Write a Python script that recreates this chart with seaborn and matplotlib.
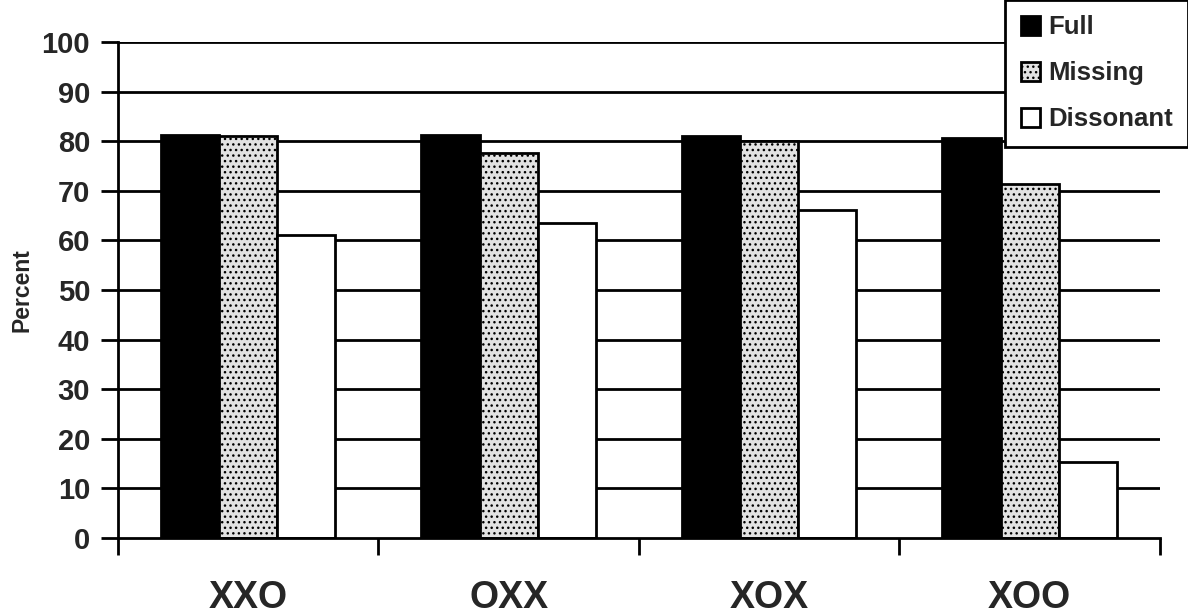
import numpy as np
import pandas as pd
import matplotlib
matplotlib.use("Agg")
import matplotlib.pyplot as plt
import seaborn as sns

categories = ["XXO", "OXX", "XOX", "XOO"]
conditions = ["Full", "Missing", "Dissonant"]
full = [81.2, 81.2, 81.0, 80.7]
missing = [81.0, 77.7, 80.0, 71.4]
dissonant = [61.0, 63.6, 66.1, 15.4]
y_ticks = list(range(0, 101, 10))

data = pd.DataFrame({
    "category": categories * 3,
    "condition": ["Full"] * 4 + ["Missing"] * 4 + ["Dissonant"] * 4,
    "percent": full + missing + dissonant,
})

sns.set_theme(style="white")
plt.rcParams["font.family"] = ["Liberation Sans", "DejaVu Sans"]
plt.rcParams["font.weight"] = "bold"
plt.rcParams["hatch.linewidth"] = 1.0

fig = plt.figure(figsize=(11.88, 6.14), dpi=100)
ax = fig.add_axes([0.0993, 0.1238, 0.8771, 0.8078])

palette = {"Full": "#000000", "Missing": "#e2e2e2", "Dissonant": "#ffffff"}
sns.barplot(data=data, x="category", y="percent", hue="condition",
            order=categories, hue_order=conditions, palette=palette,
            width=0.67, edgecolor="black", linewidth=2, saturation=1,
            ax=ax, zorder=3)

for patch in ax.containers[1]:
    patch.set_hatch("...")

ax.set_ylim(0, 100)
ax.set_xlim(-0.5, len(categories) - 0.5)
ax.set_yticks(y_ticks)
ax.set_yticklabels([str(v) for v in y_ticks], fontsize=21, fontweight="bold")
for v in y_ticks[1:]:
    ax.axhline(v, color="black", linewidth=2, zorder=1)

ax.set_xticks(range(len(categories)))
ax.set_xticklabels(categories, fontsize=27, fontweight="bold")
ax.set_xticks(np.arange(-0.5, len(categories), 1.0), minor=True)
ax.tick_params(axis="x", which="major", length=0, pad=30)
ax.tick_params(axis="x", which="minor", direction="out", length=12, width=2,
               color="black", bottom=True)
ax.tick_params(axis="y", direction="out", length=12, width=2, color="black",
               left=True, pad=8)

ax.set_xlabel("")
ax.set_ylabel("Percent", fontsize=16.5, fontweight="bold", labelpad=6)

for side in ["top", "right"]:
    ax.spines[side].set_visible(False)
for side in ["left", "bottom"]:
    ax.spines[side].set_color("black")
    ax.spines[side].set_linewidth(2)
    ax.spines[side].set_zorder(4)

ax.get_legend().remove()
handles = [c.patches[0] for c in ax.containers]
leg = fig.legend(handles, conditions, loc="upper right",
                 bbox_to_anchor=(1.0, 1.0), frameon=True, fancybox=False,
                 framealpha=1, facecolor="white",
                 prop={"size": 18.5, "weight": "bold"},
                 handlelength=0.75, handleheight=0.75, handletextpad=0.3,
                 labelspacing=0.85, borderpad=0.6, borderaxespad=0.0)
leg.get_frame().set_edgecolor("black")
leg.get_frame().set_linewidth(2)
leg.set_zorder(10)

fig.savefig("out.png", dpi=100, facecolor="white")
plt.close(fig)
